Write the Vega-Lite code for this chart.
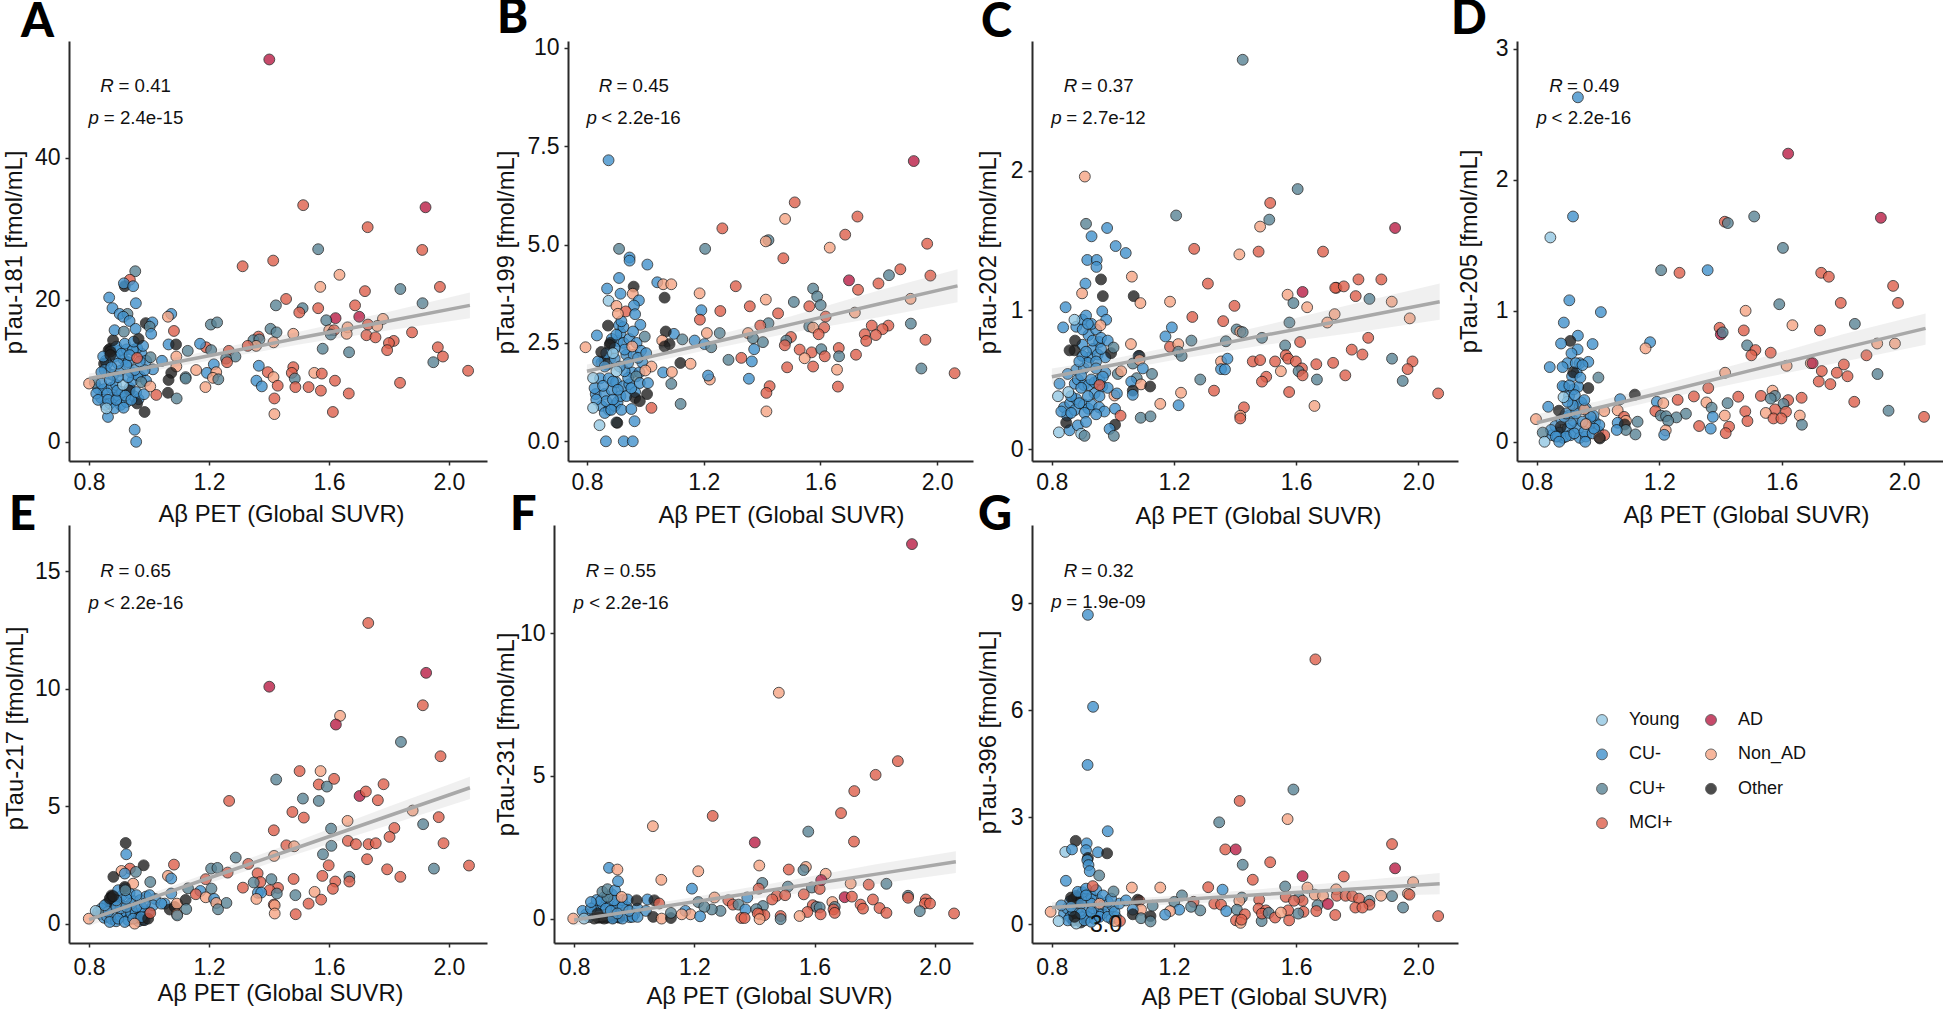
{"$schema":"https://vega.github.io/schema/vega-lite/v6.json","background":"white","padding":{"left":2,"top":-6,"right":0,"bottom":0},
"config":{"view":{"stroke":null},"font":"Liberation Sans","axis":{"grid":false,"domainColor":"#2a2a2a","domainWidth":2,"tickColor":"#2a2a2a","tickWidth":1.5,"tickSize":4,"labelFontSize":23,"labelColor":"#111","labelFont":"Liberation Sans","titleFont":"Liberation Sans","titleFontWeight":"normal","titleColor":"#111","titleBaseline":"middle","titleFontSize":23.8},"axisX":{"labelPadding":6},"axisY":{"labelPadding":5},"title":{"font":"Lato","fontSize":47,"fontWeight":900,"anchor":"start","frame":"group","color":"#000","offset":-6},"text":{"font":"Liberation Sans","fontSize":18.7,"align":"left","baseline":"middle","color":"#111"},"line":{"color":"#a8a8a8","strokeWidth":3.5},"area":{"color":"#999999","opacity":0.15},"circle":{"size":118,"stroke":"#111","strokeWidth":0.9,"opacity":0.8}},
"datasets":{"cats":[{"g":"Young"}],
"a":[{"x":0.83,"y":7.5,"g":"CU-"},{"x":0.84,"y":6.2,"g":"CU-"},{"x":0.85,"y":7.4,"g":"CU-"},{"x":0.855,"y":5.2,"g":"CU-"},{"x":0.87,"y":5.4,"g":"CU-"},{"x":0.875,"y":7.6,"g":"CU-"},{"x":0.88,"y":6.2,"g":"CU-"},{"x":0.89,"y":8,"g":"CU-"},{"x":0.9,"y":6.4,"g":"CU-"},{"x":0.905,"y":5.2,"g":"CU-"},{"x":0.91,"y":7,"g":"CU-"},{"x":0.925,"y":5.6,"g":"CU-"},{"x":0.935,"y":7.6,"g":"CU-"},{"x":0.945,"y":8.6,"g":"CU-"},{"x":0.95,"y":6.4,"g":"CU-"},{"x":0.965,"y":6,"g":"CU-"},{"x":0.97,"y":9.2,"g":"CU-"},{"x":0.99,"y":8.6,"g":"CU-"},{"x":0.86,"y":11,"g":"CU-"},{"x":0.865,"y":9.6,"g":"CU-"},{"x":0.88,"y":9.4,"g":"CU-"},{"x":0.905,"y":10,"g":"CU-"},{"x":0.915,"y":11.6,"g":"CU-"},{"x":0.93,"y":11.2,"g":"CU-"},{"x":0.94,"y":9.8,"g":"CU-"},{"x":0.96,"y":9.4,"g":"CU-"},{"x":0.975,"y":12.4,"g":"CU-"},{"x":0.9,"y":12.8,"g":"CU-"},{"x":0.925,"y":13,"g":"CU-"},{"x":0.885,"y":12,"g":"CU-"},{"x":0.855,"y":11.4,"g":"CU-"},{"x":0.99,"y":11.4,"g":"CU-"},{"x":0.96,"y":13.2,"g":"CU-"},{"x":0.87,"y":13.1,"g":"Other"},{"x":0.865,"y":12.9,"g":"Other"},{"x":0.85,"y":11,"g":"Other"},{"x":0.935,"y":7.2,"g":"Other"},{"x":0.96,"y":5.4,"g":"Other"},{"x":0.819,"y":8.3,"g":"CU+"},{"x":0.824,"y":6.8,"g":"CU-"},{"x":0.83,"y":5.9,"g":"CU-"},{"x":0.841,"y":8.2,"g":"CU-"},{"x":0.852,"y":10.1,"g":"CU-"},{"x":0.861,"y":6.8,"g":"CU-"},{"x":0.863,"y":5.9,"g":"CU-"},{"x":0.885,"y":4.7,"g":"CU-"},{"x":0.891,"y":5.9,"g":"CU-"},{"x":0.894,"y":7.2,"g":"CU-"},{"x":0.913,"y":8,"g":"Young"},{"x":0.921,"y":6.5,"g":"CU-"},{"x":0.915,"y":4.8,"g":"CU-"},{"x":0.941,"y":5.9,"g":"CU-"},{"x":0.957,"y":7,"g":"CU-"},{"x":0.983,"y":6.7,"g":"CU-"},{"x":0.974,"y":8.4,"g":"CU+"},{"x":0.952,"y":10.1,"g":"CU-"},{"x":0.93,"y":9.1,"g":"CU-"},{"x":0.896,"y":9.1,"g":"CU-"},{"x":0.869,"y":8.7,"g":"CU-"},{"x":0.841,"y":9.8,"g":"CU-"},{"x":1.013,"y":10.2,"g":"CU-"},{"x":0.985,"y":10.1,"g":"CU-"},{"x":0.969,"y":11.3,"g":"CU-"},{"x":0.924,"y":10.8,"g":"CU-"},{"x":0.896,"y":11,"g":"CU-"},{"x":0.874,"y":10.5,"g":"CU-"},{"x":0.891,"y":13.4,"g":"CU-"},{"x":0.919,"y":13.8,"g":"CU-"},{"x":0.946,"y":12.9,"g":"CU-"},{"x":0.908,"y":12.4,"g":"CU-"},{"x":0.847,"y":12,"g":"CU-"},{"x":0.871,"y":12.7,"g":"Other"},{"x":0.871,"y":12.2,"g":"Other"},{"x":0.88,"y":14.3,"g":"Other"},{"x":0.935,"y":12.2,"g":"CU-"},{"x":0.96,"y":11.8,"g":"MCI+"},{"x":0.949,"y":14.1,"g":"CU-"},{"x":0.98,"y":13.5,"g":"CU-"},{"x":0.965,"y":14.5,"g":"Other"},{"x":1.005,"y":11.9,"g":"CU+"},{"x":1.043,"y":11.4,"g":"CU-"},{"x":1.065,"y":13.7,"g":"CU-"},{"x":1.09,"y":13.7,"g":"Other"},{"x":0.954,"y":24,"g":"CU+"},{"x":0.936,"y":22.8,"g":"MCI+"},{"x":0.919,"y":21.9,"g":"Other"},{"x":0.916,"y":22.3,"g":"CU-"},{"x":0.947,"y":21.9,"g":"CU-"},{"x":0.867,"y":20.3,"g":"CU-"},{"x":0.956,"y":19.5,"g":"CU-"},{"x":0.878,"y":18.8,"g":"CU-"},{"x":0.902,"y":18,"g":"CU-"},{"x":0.928,"y":18,"g":"CU+"},{"x":0.914,"y":17.6,"g":"CU-"},{"x":0.935,"y":17,"g":"CU-"},{"x":0.989,"y":16.7,"g":"Other"},{"x":1.011,"y":16.8,"g":"CU-"},{"x":1.002,"y":16.2,"g":"CU+"},{"x":1.007,"y":15.2,"g":"CU-"},{"x":1.074,"y":18,"g":"CU-"},{"x":1.063,"y":17.6,"g":"Non_AD"},{"x":1.083,"y":15.6,"g":"MCI+"},{"x":0.955,"y":15.9,"g":"CU-"},{"x":0.885,"y":15.7,"g":"CU-"},{"x":0.916,"y":15.5,"g":"CU+"},{"x":1.091,"y":12,"g":"Non_AD"},{"x":1.091,"y":10.6,"g":"Non_AD"},{"x":1.074,"y":9.7,"g":"Other"},{"x":1.065,"y":8.7,"g":"Other"},{"x":1.063,"y":6.9,"g":"Other"},{"x":1.092,"y":6.1,"g":"CU+"},{"x":1.024,"y":6.6,"g":"MCI+"},{"x":1.004,"y":7.8,"g":"Non_AD"},{"x":0.985,"y":4.2,"g":"Other"},{"x":0.952,"y":1.7,"g":"CU-"},{"x":0.957,"y":0,"g":"CU-"},{"x":0.863,"y":3.5,"g":"CU-"},{"x":0.858,"y":4.7,"g":"Young"},{"x":0.8,"y":8.2,"g":"Non_AD"},{"x":1.514,"y":33.3,"g":"MCI+"},{"x":1.729,"y":30.2,"g":"MCI+"},{"x":1.564,"y":27.1,"g":"CU+"},{"x":1.911,"y":27,"g":"MCI+"},{"x":1.414,"y":25.5,"g":"MCI+"},{"x":1.312,"y":24.7,"g":"MCI+"},{"x":1.635,"y":23.5,"g":"Non_AD"},{"x":1.571,"y":21.8,"g":"Non_AD"},{"x":1.97,"y":21.8,"g":"MCI+"},{"x":1.72,"y":21.2,"g":"MCI+"},{"x":1.838,"y":21.5,"g":"CU+"},{"x":1.457,"y":20.1,"g":"MCI+"},{"x":1.423,"y":19.2,"g":"CU+"},{"x":1.512,"y":18.8,"g":"CU+"},{"x":1.501,"y":18.2,"g":"MCI+"},{"x":1.564,"y":18.8,"g":"MCI+"},{"x":1.687,"y":19.2,"g":"MCI+"},{"x":1.912,"y":19.5,"g":"CU+"},{"x":1.701,"y":17.6,"g":"AD"},{"x":1.622,"y":17.4,"g":"AD"},{"x":1.591,"y":17.1,"g":"CU+"},{"x":1.78,"y":17.3,"g":"Non_AD"},{"x":1.73,"y":16.5,"g":"MCI+"},{"x":1.761,"y":16.3,"g":"Non_AD"},{"x":1.662,"y":16.1,"g":"Non_AD"},{"x":1.405,"y":15.9,"g":"CU+"},{"x":1.425,"y":15.4,"g":"CU+"},{"x":1.481,"y":15.2,"g":"Non_AD"},{"x":1.601,"y":15.7,"g":"Non_AD"},{"x":1.617,"y":15.7,"g":"MCI+"},{"x":1.606,"y":15.1,"g":"CU+"},{"x":1.659,"y":15.2,"g":"Non_AD"},{"x":1.725,"y":15,"g":"MCI+"},{"x":1.755,"y":14.7,"g":"MCI+"},{"x":1.877,"y":15.4,"g":"MCI+"},{"x":1.816,"y":14.2,"g":"MCI+"},{"x":1.8,"y":13.9,"g":"MCI+"},{"x":1.794,"y":12.9,"g":"MCI+"},{"x":1.963,"y":13.3,"g":"MCI+"},{"x":1.98,"y":12,"g":"MCI+"},{"x":1.948,"y":11.2,"g":"CU+"},{"x":2.064,"y":10,"g":"MCI+"},{"x":1.579,"y":13.1,"g":"CU+"},{"x":1.667,"y":12.6,"g":"CU+"},{"x":1.365,"y":14.8,"g":"MCI+"},{"x":1.348,"y":14.3,"g":"CU+"},{"x":1.368,"y":14.4,"g":"CU+"},{"x":1.415,"y":14,"g":"Non_AD"},{"x":1.357,"y":13.5,"g":"Non_AD"},{"x":1.329,"y":13.5,"g":"MCI+"},{"x":1.19,"y":13.3,"g":"MCI+"},{"x":1.207,"y":12.9,"g":"CU+"},{"x":1.266,"y":12.8,"g":"MCI+"},{"x":1.288,"y":12,"g":"CU+"},{"x":1.257,"y":11.7,"g":"CU+"},{"x":1.26,"y":11.2,"g":"MCI+"},{"x":1.206,"y":16.5,"g":"CU+"},{"x":1.227,"y":16.8,"g":"CU+"},{"x":1.17,"y":13.8,"g":"CU-"},{"x":1.129,"y":12.8,"g":"CU+"},{"x":1.216,"y":10.9,"g":"CU-"},{"x":1.193,"y":9.7,"g":"CU-"},{"x":1.157,"y":10.1,"g":"Non_AD"},{"x":1.188,"y":7.7,"g":"Non_AD"},{"x":1.224,"y":9.8,"g":"Non_AD"},{"x":1.213,"y":9,"g":"Non_AD"},{"x":1.231,"y":8.8,"g":"CU+"},{"x":1.122,"y":9.1,"g":"CU+"},{"x":1.122,"y":8.9,"g":"CU+"},{"x":1.366,"y":10.7,"g":"CU-"},{"x":1.358,"y":8.6,"g":"CU-"},{"x":1.376,"y":7.8,"g":"CU-"},{"x":1.396,"y":9.8,"g":"MCI+"},{"x":1.415,"y":9.1,"g":"Non_AD"},{"x":1.429,"y":7.9,"g":"MCI+"},{"x":1.481,"y":10.5,"g":"MCI+"},{"x":1.476,"y":9.7,"g":"MCI+"},{"x":1.486,"y":8.9,"g":"CU+"},{"x":1.488,"y":7.7,"g":"MCI+"},{"x":1.532,"y":7.7,"g":"MCI+"},{"x":1.551,"y":9.7,"g":"Non_AD"},{"x":1.576,"y":9.6,"g":"MCI+"},{"x":1.573,"y":7.2,"g":"MCI+"},{"x":1.62,"y":8.6,"g":"MCI+"},{"x":1.666,"y":6.8,"g":"MCI+"},{"x":1.837,"y":8.3,"g":"MCI+"},{"x":1.418,"y":6.1,"g":"MCI+"},{"x":1.418,"y":3.9,"g":"Non_AD"},{"x":1.613,"y":4.2,"g":"MCI+"},{"x":1.401,"y":53.8,"g":"AD"},{"x":1.922,"y":33,"g":"AD"}],
"a_l":[{"x":0.8,"y":8.9,"lo":8.2,"hi":9.6},{"x":1.0,"y":10.5,"lo":9.9,"hi":11.1},{"x":1.2,"y":12.1,"lo":11.4,"hi":12.8},{"x":1.5,"y":14.6,"lo":13.7,"hi":15.5},{"x":1.8,"y":17.0,"lo":15.7,"hi":18.3},{"x":2.07,"y":19.2,"lo":17.4,"hi":21}],"a_r":[{"x":0.837,"y":50,"t":"R"},{"x":0.798,"y":45.5,"t":"p"}],"a_s":[{"x":0.898,"y":50,"t":"= 0.41"},{"x":0.849,"y":45.5,"t":"= 2.4e-15"}],
"b":[{"x":0.83,"y":1.2,"g":"CU-"},{"x":0.845,"y":1.6,"g":"CU-"},{"x":0.85,"y":0.9,"g":"CU-"},{"x":0.86,"y":1.2,"g":"CU-"},{"x":0.875,"y":0.8,"g":"CU-"},{"x":0.875,"y":1.6,"g":"CU-"},{"x":0.885,"y":1.3,"g":"CU-"},{"x":0.895,"y":0.9,"g":"CU-"},{"x":0.9,"y":1.5,"g":"CU-"},{"x":0.905,"y":1,"g":"CU-"},{"x":0.915,"y":1.15,"g":"CU-"},{"x":0.925,"y":1.4,"g":"CU-"},{"x":0.935,"y":1.15,"g":"CU-"},{"x":0.945,"y":1.45,"g":"CU-"},{"x":0.955,"y":1.75,"g":"CU-"},{"x":0.965,"y":1.25,"g":"CU-"},{"x":0.98,"y":1.75,"g":"CU-"},{"x":0.99,"y":2,"g":"CU-"},{"x":0.85,"y":2,"g":"CU-"},{"x":0.87,"y":1.95,"g":"CU-"},{"x":0.88,"y":2.1,"g":"CU-"},{"x":0.895,"y":2.1,"g":"CU-"},{"x":0.905,"y":2.55,"g":"CU-"},{"x":0.915,"y":2.75,"g":"CU-"},{"x":0.925,"y":2.5,"g":"CU-"},{"x":0.935,"y":2.2,"g":"CU-"},{"x":0.945,"y":2.6,"g":"CU-"},{"x":0.96,"y":2.2,"g":"CU-"},{"x":0.97,"y":2.5,"g":"CU-"},{"x":0.885,"y":2.6,"g":"CU-"},{"x":0.91,"y":2.95,"g":"CU-"},{"x":0.925,"y":2.9,"g":"CU-"},{"x":0.985,"y":2.3,"g":"CU-"},{"x":0.88,"y":2.5,"g":"Other"},{"x":0.86,"y":2.05,"g":"Other"},{"x":0.965,"y":1.1,"g":"Other"},{"x":0.838,"y":2.03,"g":"CU-"},{"x":0.861,"y":1.9,"g":"CU-"},{"x":0.826,"y":1.35,"g":"CU-"},{"x":0.855,"y":1.41,"g":"CU-"},{"x":0.889,"y":1.52,"g":"CU-"},{"x":0.941,"y":1.61,"g":"CU-"},{"x":0.969,"y":1.65,"g":"CU+"},{"x":0.906,"y":1.31,"g":"CU-"},{"x":0.929,"y":1.78,"g":"CU-"},{"x":0.866,"y":1.02,"g":"CU-"},{"x":0.889,"y":1.06,"g":"CU-"},{"x":0.832,"y":1.06,"g":"CU-"},{"x":0.861,"y":0.72,"g":"CU-"},{"x":0.883,"y":0.8,"g":"CU-"},{"x":0.918,"y":0.8,"g":"CU-"},{"x":0.952,"y":1.35,"g":"CU-"},{"x":0.981,"y":1.48,"g":"CU-"},{"x":0.929,"y":2.33,"g":"CU-"},{"x":0.895,"y":2.37,"g":"CU-"},{"x":0.941,"y":1.99,"g":"CU-"},{"x":0.866,"y":2.24,"g":"CU-"},{"x":0.912,"y":1.9,"g":"CU-"},{"x":0.975,"y":2.12,"g":"CU-"},{"x":0.901,"y":1.78,"g":"Young"},{"x":0.795,"y":2.39,"g":"Non_AD"},{"x":0.834,"y":2.69,"g":"CU-"},{"x":0.872,"y":2.94,"g":"Other"},{"x":0.878,"y":2.45,"g":"Other"},{"x":0.955,"y":2.41,"g":"Non_AD"},{"x":0.998,"y":2.66,"g":"CU+"},{"x":0.983,"y":2.96,"g":"CU-"},{"x":0.918,"y":3.05,"g":"CU-"},{"x":0.901,"y":2.71,"g":"CU-"},{"x":0.958,"y":2.79,"g":"CU-"},{"x":1.003,"y":2.24,"g":"CU-"},{"x":0.849,"y":2.27,"g":"Other"},{"x":0.889,"y":2.24,"g":"Young"},{"x":0.821,"y":1.61,"g":"Young"},{"x":0.821,"y":0.85,"g":"Young"},{"x":1.021,"y":1.9,"g":"Non_AD"},{"x":1,"y":1.8,"g":"Non_AD"},{"x":1.009,"y":1.48,"g":"CU-"},{"x":1.006,"y":1.2,"g":"Other"},{"x":0.981,"y":1.02,"g":"Other"},{"x":0.952,"y":0.82,"g":"CU-"},{"x":0.843,"y":0.41,"g":"Young"},{"x":0.963,"y":0.51,"g":"CU-"},{"x":0.901,"y":0.48,"g":"CU+"},{"x":0.904,"y":0.47,"g":"Other"},{"x":0.865,"y":0,"g":"CU-"},{"x":0.926,"y":0,"g":"CU-"},{"x":0.957,"y":0,"g":"CU-"},{"x":0.874,"y":7.14,"g":"CU-"},{"x":1.512,"y":6.07,"g":"MCI+"},{"x":1.479,"y":5.65,"g":"Non_AD"},{"x":1.727,"y":5.71,"g":"MCI+"},{"x":1.264,"y":5.41,"g":"MCI+"},{"x":1.685,"y":5.25,"g":"MCI+"},{"x":0.91,"y":4.89,"g":"CU+"},{"x":1.205,"y":4.89,"g":"CU+"},{"x":1.422,"y":5.11,"g":"CU+"},{"x":1.413,"y":5.08,"g":"Non_AD"},{"x":1.632,"y":4.92,"g":"Non_AD"},{"x":1.966,"y":5.02,"g":"MCI+"},{"x":1.473,"y":4.65,"g":"MCI+"},{"x":0.946,"y":4.67,"g":"CU-"},{"x":0.946,"y":4.59,"g":"CU-"},{"x":1.007,"y":4.49,"g":"CU-"},{"x":1.874,"y":4.37,"g":"MCI+"},{"x":1.835,"y":4.22,"g":"CU+"},{"x":1.977,"y":4.21,"g":"MCI+"},{"x":0.91,"y":4.15,"g":"CU-"},{"x":1.698,"y":4.09,"g":"AD"},{"x":1.799,"y":4.01,"g":"MCI+"},{"x":1.041,"y":4.04,"g":"CU-"},{"x":1.061,"y":3.99,"g":"Non_AD"},{"x":1.089,"y":3.99,"g":"Non_AD"},{"x":1.31,"y":3.94,"g":"MCI+"},{"x":1.575,"y":3.88,"g":"CU+"},{"x":1.729,"y":3.85,"g":"MCI+"},{"x":0.869,"y":3.88,"g":"CU-"},{"x":0.96,"y":3.93,"g":"Other"},{"x":0.915,"y":3.75,"g":"CU-"},{"x":0.957,"y":3.75,"g":"Non_AD"},{"x":1.186,"y":3.76,"g":"Non_AD"},{"x":1.589,"y":3.68,"g":"CU+"},{"x":1.066,"y":3.65,"g":"Other"},{"x":1.413,"y":3.6,"g":"Non_AD"},{"x":1.909,"y":3.62,"g":"Non_AD"},{"x":1.509,"y":3.54,"g":"CU+"},{"x":0.874,"y":3.57,"g":"Young"},{"x":0.978,"y":3.58,"g":"CU-"},{"x":0.961,"y":3.45,"g":"CU-"},{"x":0.901,"y":3.44,"g":"Non_AD"},{"x":1.601,"y":3.46,"g":"CU+"},{"x":1.358,"y":3.43,"g":"MCI+"},{"x":1.562,"y":3.43,"g":"MCI+"},{"x":1.192,"y":3.33,"g":"CU-"},{"x":1.257,"y":3.31,"g":"MCI+"},{"x":1.455,"y":3.25,"g":"MCI+"},{"x":1.718,"y":3.27,"g":"Non_AD"},{"x":0.933,"y":3.3,"g":"MCI+"},{"x":0.965,"y":3.23,"g":"CU-"},{"x":0.906,"y":3.24,"g":"Non_AD"},{"x":1.618,"y":3.17,"g":"MCI+"},{"x":1.187,"y":3.09,"g":"MCI+"},{"x":1.422,"y":3,"g":"CU+"},{"x":1.394,"y":2.94,"g":"MCI+"},{"x":1.776,"y":2.94,"g":"MCI+"},{"x":1.613,"y":2.89,"g":"MCI+"},{"x":1.562,"y":2.92,"g":"CU+"},{"x":1.575,"y":2.89,"g":"Non_AD"},{"x":1.833,"y":2.94,"g":"MCI+"},{"x":1.813,"y":2.85,"g":"MCI+"},{"x":1.752,"y":2.72,"g":"MCI+"},{"x":1.79,"y":2.7,"g":"MCI+"},{"x":1.594,"y":2.72,"g":"MCI+"},{"x":1.352,"y":2.75,"g":"Non_AD"},{"x":1.369,"y":2.62,"g":"CU+"},{"x":1.211,"y":2.75,"g":"Non_AD"},{"x":1.255,"y":2.75,"g":"CU+"},{"x":1.499,"y":2.65,"g":"MCI+"},{"x":1.483,"y":2.56,"g":"CU+"},{"x":1.478,"y":2.44,"g":"MCI+"},{"x":1.403,"y":2.52,"g":"CU+"},{"x":1.098,"y":2.73,"g":"CU-"},{"x":1.07,"y":2.79,"g":"Other"},{"x":1.127,"y":2.59,"g":"CU+"},{"x":1.169,"y":2.56,"g":"CU-"},{"x":1.058,"y":2.56,"g":"Non_AD"},{"x":1.203,"y":2.47,"g":"CU-"},{"x":1.226,"y":2.39,"g":"CU+"},{"x":1.083,"y":2.47,"g":"Other"},{"x":1.066,"y":2.41,"g":"Other"},{"x":1.757,"y":2.55,"g":"MCI+"},{"x":1.96,"y":2.58,"g":"MCI+"},{"x":1.373,"y":2.34,"g":"CU-"},{"x":1.529,"y":2.33,"g":"MCI+"},{"x":1.91,"y":2.99,"g":"CU+"},{"x":1.57,"y":2.26,"g":"MCI+"},{"x":1.603,"y":2.34,"g":"CU+"},{"x":1.663,"y":2.37,"g":"MCI+"},{"x":1.664,"y":2.16,"g":"CU+"},{"x":1.615,"y":2.16,"g":"MCI+"},{"x":1.722,"y":2.2,"g":"MCI+"},{"x":1.329,"y":2.12,"g":"MCI+"},{"x":1.546,"y":2.11,"g":"Non_AD"},{"x":1.285,"y":2.07,"g":"CU+"},{"x":1.365,"y":2.03,"g":"CU-"},{"x":1.12,"y":1.99,"g":"Other"},{"x":1.155,"y":1.97,"g":"Non_AD"},{"x":1.486,"y":1.88,"g":"MCI+"},{"x":1.575,"y":1.9,"g":"MCI+"},{"x":1.946,"y":1.85,"g":"CU+"},{"x":1.657,"y":1.82,"g":"Non_AD"},{"x":2.06,"y":1.73,"g":"MCI+"},{"x":1.061,"y":1.75,"g":"CU-"},{"x":1.091,"y":1.76,"g":"Non_AD"},{"x":1.089,"y":1.46,"g":"CU+"},{"x":1.221,"y":1.57,"g":"Non_AD"},{"x":1.215,"y":1.67,"g":"CU-"},{"x":1.355,"y":1.59,"g":"CU-"},{"x":1.426,"y":1.4,"g":"MCI+"},{"x":1.66,"y":1.39,"g":"MCI+"},{"x":1.415,"y":1.23,"g":"MCI+"},{"x":1.121,"y":0.95,"g":"CU+"},{"x":1.021,"y":0.85,"g":"MCI+"},{"x":1.415,"y":0.76,"g":"Non_AD"},{"x":1.92,"y":7.12,"g":"AD"}],
"b_l":[{"x":0.8,"y":1.78,"lo":1.62,"hi":1.95},{"x":1.0,"y":2.12,"lo":1.98,"hi":2.26},{"x":1.2,"y":2.46,"lo":2.30,"hi":2.62},{"x":1.5,"y":2.97,"lo":2.76,"hi":3.18},{"x":1.8,"y":3.49,"lo":3.15,"hi":3.83},{"x":2.07,"y":3.95,"lo":3.53,"hi":4.37}],"b_r":[{"x":0.84,"y":9.03,"t":"R"},{"x":0.798,"y":8.22,"t":"p"}],"b_s":[{"x":0.901,"y":9.03,"t":"= 0.45"},{"x":0.849,"y":8.22,"t":"< 2.2e-16"}],
"c":[{"x":0.84,"y":0.3,"g":"CU-"},{"x":0.85,"y":0.24,"g":"CU-"},{"x":0.86,"y":0.33,"g":"CU-"},{"x":0.875,"y":0.28,"g":"CU-"},{"x":0.88,"y":0.36,"g":"CU-"},{"x":0.905,"y":0.32,"g":"CU-"},{"x":0.92,"y":0.29,"g":"CU-"},{"x":0.93,"y":0.32,"g":"CU-"},{"x":0.94,"y":0.4,"g":"CU-"},{"x":0.955,"y":0.3,"g":"CU-"},{"x":0.965,"y":0.45,"g":"CU-"},{"x":0.875,"y":0.47,"g":"CU-"},{"x":0.885,"y":0.5,"g":"CU-"},{"x":0.905,"y":0.46,"g":"CU-"},{"x":0.92,"y":0.46,"g":"CU-"},{"x":0.94,"y":0.48,"g":"CU-"},{"x":0.955,"y":0.5,"g":"CU-"},{"x":0.975,"y":0.55,"g":"CU-"},{"x":0.88,"y":0.57,"g":"CU-"},{"x":0.905,"y":0.58,"g":"CU-"},{"x":0.925,"y":0.66,"g":"CU-"},{"x":0.9,"y":0.67,"g":"CU-"},{"x":0.935,"y":0.72,"g":"CU-"},{"x":0.95,"y":0.68,"g":"CU-"},{"x":0.975,"y":0.66,"g":"CU-"},{"x":0.9,"y":0.75,"g":"CU-"},{"x":0.92,"y":0.82,"g":"CU-"},{"x":0.945,"y":0.86,"g":"CU-"},{"x":0.88,"y":0.88,"g":"CU-"},{"x":0.9,"y":0.93,"g":"CU-"},{"x":0.93,"y":0.9,"g":"CU-"},{"x":0.955,"y":0.77,"g":"CU-"},{"x":0.831,"y":0.27,"g":"CU-"},{"x":0.863,"y":0.26,"g":"CU-"},{"x":0.89,"y":0.33,"g":"CU-"},{"x":0.918,"y":0.38,"g":"CU-"},{"x":0.956,"y":0.38,"g":"CU-"},{"x":0.972,"y":0.27,"g":"CU-"},{"x":0.945,"y":0.25,"g":"CU-"},{"x":0.907,"y":0.26,"g":"CU-"},{"x":0.863,"y":0.38,"g":"CU-"},{"x":0.896,"y":0.44,"g":"CU-"},{"x":0.929,"y":0.5,"g":"CU-"},{"x":0.967,"y":0.52,"g":"CU-"},{"x":0.896,"y":0.53,"g":"CU-"},{"x":0.852,"y":0.54,"g":"CU-"},{"x":0.983,"y":0.44,"g":"CU-"},{"x":0.918,"y":0.62,"g":"CU-"},{"x":0.945,"y":0.63,"g":"CU-"},{"x":0.89,"y":0.63,"g":"CU-"},{"x":0.912,"y":0.7,"g":"CU-"},{"x":0.961,"y":0.72,"g":"CU-"},{"x":0.874,"y":0.71,"g":"Other"},{"x":0.858,"y":0.71,"g":"Other"},{"x":0.994,"y":0.69,"g":"Other"},{"x":0.934,"y":0.78,"g":"CU-"},{"x":0.961,"y":0.8,"g":"CU-"},{"x":0.901,"y":0.86,"g":"CU-"},{"x":0.876,"y":0.78,"g":"Other"},{"x":0.912,"y":0.96,"g":"CU-"},{"x":0.874,"y":0.93,"g":"Young"},{"x":0.918,"y":0.9,"g":"CU-"},{"x":0.983,"y":0.78,"g":"CU-"},{"x":0.945,"y":0.58,"g":"CU-"},{"x":0.82,"y":0.38,"g":"Young"},{"x":0.825,"y":0.47,"g":"CU-"},{"x":0.854,"y":0.41,"g":"Young"},{"x":0.823,"y":0.12,"g":"Young"},{"x":0.858,"y":0.135,"g":"CU-"},{"x":0.847,"y":0.19,"g":"Other"},{"x":0.885,"y":0.17,"g":"CU-"},{"x":0.896,"y":0.11,"g":"Young"},{"x":0.907,"y":0.095,"g":"CU+"},{"x":0.912,"y":0.195,"g":"CU-"},{"x":0.908,"y":1.96,"g":"Non_AD"},{"x":0.912,"y":1.62,"g":"CU+"},{"x":0.981,"y":1.59,"g":"CU-"},{"x":0.93,"y":1.53,"g":"CU-"},{"x":1.009,"y":1.46,"g":"CU-"},{"x":1.042,"y":1.41,"g":"CU-"},{"x":0.916,"y":1.36,"g":"CU-"},{"x":0.947,"y":1.36,"g":"CU-"},{"x":0.946,"y":1.31,"g":"CU-"},{"x":1.062,"y":1.24,"g":"Non_AD"},{"x":0.961,"y":1.22,"g":"Other"},{"x":0.91,"y":1.19,"g":"CU-"},{"x":0.899,"y":1.12,"g":"Non_AD"},{"x":0.967,"y":1.1,"g":"Other"},{"x":1.068,"y":1.1,"g":"Other"},{"x":1.09,"y":1.05,"g":"Non_AD"},{"x":0.845,"y":1.02,"g":"CU-"},{"x":0.965,"y":0.99,"g":"CU-"},{"x":0.837,"y":0.875,"g":"CU-"},{"x":0.978,"y":0.93,"g":"CU-"},{"x":0.959,"y":0.89,"g":"Non_AD"},{"x":1.059,"y":0.755,"g":"Non_AD"},{"x":1.002,"y":0.73,"g":"CU+"},{"x":1.084,"y":0.67,"g":"CU-"},{"x":1.087,"y":0.67,"g":"Other"},{"x":1.065,"y":0.615,"g":"CU+"},{"x":1.087,"y":0.64,"g":"Non_AD"},{"x":1.098,"y":0.58,"g":"CU-"},{"x":1.016,"y":0.54,"g":"CU+"},{"x":1.027,"y":0.56,"g":"Non_AD"},{"x":1.128,"y":0.54,"g":"CU+"},{"x":1.078,"y":0.51,"g":"CU+"},{"x":1.06,"y":0.485,"g":"CU-"},{"x":1.092,"y":0.465,"g":"Non_AD"},{"x":1.122,"y":0.45,"g":"Other"},{"x":0.956,"y":0.46,"g":"MCI+"},{"x":1.065,"y":0.42,"g":"Other"},{"x":1.065,"y":0.39,"g":"CU-"},{"x":1.005,"y":0.385,"g":"Non_AD"},{"x":1.013,"y":0.4,"g":"CU-"},{"x":1.007,"y":0.29,"g":"CU-"},{"x":1.025,"y":0.24,"g":"MCI+"},{"x":1.091,"y":0.225,"g":"CU+"},{"x":1.123,"y":0.235,"g":"CU+"},{"x":1.007,"y":0.175,"g":"Other"},{"x":0.989,"y":0.145,"g":"CU-"},{"x":1.003,"y":0.095,"g":"CU+"},{"x":1.425,"y":2.8,"g":"CU+"},{"x":1.605,"y":1.87,"g":"CU+"},{"x":1.515,"y":1.77,"g":"MCI+"},{"x":1.512,"y":1.65,"g":"CU+"},{"x":1.482,"y":1.6,"g":"Non_AD"},{"x":1.207,"y":1.68,"g":"CU+"},{"x":1.266,"y":1.44,"g":"MCI+"},{"x":1.477,"y":1.42,"g":"MCI+"},{"x":1.688,"y":1.42,"g":"MCI+"},{"x":1.414,"y":1.4,"g":"Non_AD"},{"x":1.804,"y":1.22,"g":"MCI+"},{"x":1.879,"y":1.22,"g":"MCI+"},{"x":1.311,"y":1.19,"g":"MCI+"},{"x":1.732,"y":1.16,"g":"MCI+"},{"x":1.728,"y":1.16,"g":"MCI+"},{"x":1.756,"y":1.17,"g":"MCI+"},{"x":1.795,"y":1.1,"g":"MCI+"},{"x":1.621,"y":1.13,"g":"AD"},{"x":1.572,"y":1.11,"g":"Non_AD"},{"x":1.187,"y":1.06,"g":"Non_AD"},{"x":1.591,"y":1.05,"g":"CU+"},{"x":1.84,"y":1.08,"g":"CU+"},{"x":1.913,"y":1.06,"g":"Non_AD"},{"x":1.398,"y":1.03,"g":"MCI+"},{"x":1.636,"y":1.02,"g":"Non_AD"},{"x":1.726,"y":0.97,"g":"Non_AD"},{"x":1.26,"y":0.95,"g":"MCI+"},{"x":1.361,"y":0.92,"g":"MCI+"},{"x":1.702,"y":0.91,"g":"Non_AD"},{"x":1.578,"y":0.91,"g":"CU+"},{"x":1.972,"y":0.94,"g":"Non_AD"},{"x":1.193,"y":0.875,"g":"CU-"},{"x":1.405,"y":0.86,"g":"CU+"},{"x":1.417,"y":0.845,"g":"Non_AD"},{"x":1.425,"y":0.84,"g":"CU+"},{"x":1.172,"y":0.81,"g":"CU-"},{"x":1.488,"y":0.8,"g":"CU+"},{"x":1.836,"y":0.8,"g":"MCI+"},{"x":1.257,"y":0.78,"g":"CU+"},{"x":1.613,"y":0.77,"g":"MCI+"},{"x":1.37,"y":0.775,"g":"CU+"},{"x":1.187,"y":0.735,"g":"MCI+"},{"x":1.214,"y":0.755,"g":"Non_AD"},{"x":1.564,"y":0.745,"g":"CU+"},{"x":1.782,"y":0.715,"g":"MCI+"},{"x":1.817,"y":0.68,"g":"MCI+"},{"x":1.214,"y":0.7,"g":"CU+"},{"x":1.225,"y":0.67,"g":"CU+"},{"x":1.566,"y":0.675,"g":"MCI+"},{"x":1.574,"y":0.65,"g":"MCI+"},{"x":1.354,"y":0.63,"g":"Non_AD"},{"x":1.375,"y":0.65,"g":"CU-"},{"x":1.458,"y":0.63,"g":"MCI+"},{"x":1.482,"y":0.64,"g":"MCI+"},{"x":1.531,"y":0.63,"g":"MCI+"},{"x":1.599,"y":0.63,"g":"MCI+"},{"x":1.666,"y":0.61,"g":"MCI+"},{"x":1.721,"y":0.62,"g":"MCI+"},{"x":1.914,"y":0.65,"g":"CU+"},{"x":1.981,"y":0.63,"g":"MCI+"},{"x":1.965,"y":0.575,"g":"MCI+"},{"x":1.354,"y":0.575,"g":"CU-"},{"x":1.367,"y":0.573,"g":"CU-"},{"x":1.619,"y":0.58,"g":"MCI+"},{"x":1.608,"y":0.56,"g":"CU+"},{"x":1.621,"y":0.53,"g":"MCI+"},{"x":1.55,"y":0.56,"g":"Non_AD"},{"x":1.761,"y":0.53,"g":"MCI+"},{"x":1.502,"y":0.52,"g":"MCI+"},{"x":1.488,"y":0.485,"g":"MCI+"},{"x":1.668,"y":0.5,"g":"CU+"},{"x":1.286,"y":0.5,"g":"CU+"},{"x":1.949,"y":0.49,"g":"CU+"},{"x":1.331,"y":0.42,"g":"MCI+"},{"x":1.577,"y":0.41,"g":"MCI+"},{"x":1.223,"y":0.405,"g":"Non_AD"},{"x":2.065,"y":0.4,"g":"MCI+"},{"x":1.155,"y":0.325,"g":"Non_AD"},{"x":1.215,"y":0.315,"g":"CU-"},{"x":1.66,"y":0.31,"g":"Non_AD"},{"x":1.429,"y":0.3,"g":"MCI+"},{"x":1.417,"y":0.24,"g":"Non_AD"},{"x":1.417,"y":0.22,"g":"MCI+"},{"x":1.924,"y":1.59,"g":"AD"}],
"c_l":[{"x":0.8,"y":0.52,"lo":0.47,"hi":0.58},{"x":1.0,"y":0.605,"lo":0.56,"hi":0.65},{"x":1.2,"y":0.69,"lo":0.64,"hi":0.74},{"x":1.5,"y":0.82,"lo":0.75,"hi":0.89},{"x":1.8,"y":0.945,"lo":0.84,"hi":1.05},{"x":2.07,"y":1.06,"lo":0.93,"hi":1.19}],"c_r":[{"x":0.839,"y":2.61,"t":"R"},{"x":0.798,"y":2.38,"t":"p"}],"c_s":[{"x":0.896,"y":2.61,"t":"= 0.37"},{"x":0.847,"y":2.38,"t":"= 2.7e-12"}],
"d":[{"x":0.85,"y":0.05,"g":"CU-"},{"x":0.86,"y":0.12,"g":"CU-"},{"x":0.875,"y":0.07,"g":"CU-"},{"x":0.885,"y":0.03,"g":"CU-"},{"x":0.9,"y":0.1,"g":"CU-"},{"x":0.91,"y":0.05,"g":"CU-"},{"x":0.92,"y":0.16,"g":"CU-"},{"x":0.935,"y":0.1,"g":"CU-"},{"x":0.94,"y":0.03,"g":"CU-"},{"x":0.96,"y":0.04,"g":"CU-"},{"x":0.97,"y":0.13,"g":"CU-"},{"x":0.99,"y":0.15,"g":"CU-"},{"x":0.905,"y":0.2,"g":"CU-"},{"x":0.925,"y":0.27,"g":"CU-"},{"x":0.94,"y":0.27,"g":"CU-"},{"x":0.88,"y":0.17,"g":"CU-"},{"x":0.905,"y":0.35,"g":"CU-"},{"x":0.92,"y":0.4,"g":"CU-"},{"x":0.935,"y":0.42,"g":"CU-"},{"x":0.93,"y":0.53,"g":"CU-"},{"x":0.94,"y":0.6,"g":"CU-"},{"x":0.9,"y":0.6,"g":"CU-"},{"x":0.89,"y":0.42,"g":"CU-"},{"x":0.915,"y":0.5,"g":"CU-"},{"x":0.945,"y":0.3,"g":"CU-"},{"x":0.97,"y":0.22,"g":"CU-"},{"x":0.985,"y":0.2,"g":"CU-"},{"x":1,"y":0.08,"g":"CU-"},{"x":0.846,"y":0.09,"g":"CU-"},{"x":0.868,"y":0.04,"g":"CU-"},{"x":0.895,"y":0.04,"g":"CU-"},{"x":0.922,"y":0.064,"g":"CU-"},{"x":0.955,"y":0.076,"g":"CU-"},{"x":0.982,"y":0.064,"g":"CU-"},{"x":1.004,"y":0.127,"g":"CU-"},{"x":0.976,"y":0.19,"g":"CU-"},{"x":0.949,"y":0.153,"g":"CU-"},{"x":0.911,"y":0.14,"g":"CU-"},{"x":0.878,"y":0.115,"g":"Other"},{"x":0.889,"y":0.19,"g":"CU-"},{"x":0.927,"y":0.216,"g":"CU-"},{"x":0.96,"y":0.255,"g":"CU-"},{"x":0.917,"y":0.28,"g":"CU-"},{"x":0.895,"y":0.216,"g":"CU-"},{"x":0.862,"y":0.04,"g":"CU-"},{"x":0.9,"y":0.305,"g":"CU-"},{"x":0.987,"y":0.1,"g":"CU-"},{"x":0.873,"y":0,"g":"CU-"},{"x":0.958,"y":0,"g":"CU-"},{"x":0.96,"y":0.135,"g":"Non_AD"},{"x":0.819,"y":0.07,"g":"CU+"},{"x":0.825,"y":0,"g":"Young"},{"x":1.02,"y":0.05,"g":"MCI+"},{"x":1.004,"y":0.033,"g":"Non_AD"},{"x":1.006,"y":0.025,"g":"Other"},{"x":0.797,"y":0.173,"g":"Non_AD"},{"x":0.837,"y":0.267,"g":"CU-"},{"x":0.872,"y":0.237,"g":"Other"},{"x":0.955,"y":0.247,"g":"Non_AD"},{"x":1.02,"y":0.234,"g":"Non_AD"},{"x":1.064,"y":0.24,"g":"Non_AD"},{"x":1.085,"y":0.19,"g":"MCI+"},{"x":1.091,"y":0.16,"g":"Non_AD"},{"x":1.064,"y":0.145,"g":"CU-"},{"x":1.087,"y":0.132,"g":"Other"},{"x":1.091,"y":0.09,"g":"CU+"},{"x":1.061,"y":0.09,"g":"CU-"},{"x":1.129,"y":0.153,"g":"CU+"},{"x":1.122,"y":0.056,"g":"CU+"},{"x":0.934,"y":2.63,"g":"CU-"},{"x":0.918,"y":1.72,"g":"CU-"},{"x":0.844,"y":1.56,"g":"Young"},{"x":0.906,"y":1.08,"g":"CU-"},{"x":1.009,"y":0.99,"g":"CU-"},{"x":0.888,"y":0.91,"g":"CU-"},{"x":0.934,"y":0.81,"g":"CU-"},{"x":0.909,"y":0.77,"g":"Other"},{"x":0.879,"y":0.75,"g":"CU-"},{"x":0.982,"y":0.746,"g":"CU-"},{"x":0.933,"y":0.705,"g":"CU-"},{"x":0.913,"y":0.675,"g":"CU-"},{"x":0.968,"y":0.61,"g":"CU-"},{"x":0.927,"y":0.6,"g":"CU-"},{"x":0.842,"y":0.57,"g":"CU-"},{"x":0.884,"y":0.57,"g":"CU-"},{"x":0.949,"y":0.585,"g":"CU-"},{"x":1.001,"y":0.49,"g":"CU+"},{"x":0.919,"y":0.53,"g":"Other"},{"x":0.942,"y":0.49,"g":"CU-"},{"x":0.884,"y":0.425,"g":"CU-"},{"x":0.968,"y":0.41,"g":"Other"},{"x":0.906,"y":0.43,"g":"CU-"},{"x":0.887,"y":0.34,"g":"Young"},{"x":0.924,"y":0.356,"g":"CU-"},{"x":0.955,"y":0.318,"g":"CU-"},{"x":1.12,"y":0.36,"g":"Other"},{"x":1.072,"y":0.325,"g":"CU-"},{"x":1.621,"y":2.2,"g":"AD"},{"x":1.51,"y":1.72,"g":"CU+"},{"x":1.414,"y":1.68,"g":"MCI+"},{"x":1.424,"y":1.67,"g":"CU+"},{"x":1.604,"y":1.48,"g":"CU+"},{"x":1.206,"y":1.31,"g":"CU+"},{"x":1.358,"y":1.31,"g":"CU-"},{"x":1.266,"y":1.29,"g":"MCI+"},{"x":1.729,"y":1.29,"g":"MCI+"},{"x":1.754,"y":1.26,"g":"MCI+"},{"x":1.964,"y":1.19,"g":"MCI+"},{"x":1.98,"y":1.06,"g":"MCI+"},{"x":1.592,"y":1.05,"g":"CU+"},{"x":1.793,"y":1.06,"g":"MCI+"},{"x":1.482,"y":1,"g":"Non_AD"},{"x":1.839,"y":0.9,"g":"CU+"},{"x":1.635,"y":0.89,"g":"Non_AD"},{"x":1.476,"y":0.85,"g":"MCI+"},{"x":1.725,"y":0.85,"g":"MCI+"},{"x":1.397,"y":0.87,"g":"MCI+"},{"x":1.401,"y":0.82,"g":"AD"},{"x":1.407,"y":0.835,"g":"CU+"},{"x":1.17,"y":0.76,"g":"CU-"},{"x":1.155,"y":0.713,"g":"Non_AD"},{"x":1.487,"y":0.736,"g":"CU+"},{"x":1.514,"y":0.7,"g":"MCI+"},{"x":1.501,"y":0.66,"g":"MCI+"},{"x":1.564,"y":0.68,"g":"MCI+"},{"x":1.877,"y":0.66,"g":"MCI+"},{"x":1.695,"y":0.6,"g":"Non_AD"},{"x":1.701,"y":0.6,"g":"AD"},{"x":1.616,"y":0.58,"g":"Non_AD"},{"x":1.803,"y":0.59,"g":"MCI+"},{"x":1.731,"y":0.54,"g":"MCI+"},{"x":1.78,"y":0.527,"g":"MCI+"},{"x":1.912,"y":0.75,"g":"Non_AD"},{"x":1.97,"y":0.75,"g":"Non_AD"},{"x":1.415,"y":0.527,"g":"Non_AD"},{"x":1.913,"y":0.517,"g":"CU+"},{"x":1.815,"y":0.5,"g":"MCI+"},{"x":1.721,"y":0.46,"g":"MCI+"},{"x":1.759,"y":0.44,"g":"MCI+"},{"x":1.36,"y":0.41,"g":"MCI+"},{"x":1.57,"y":0.39,"g":"Non_AD"},{"x":1.313,"y":0.346,"g":"MCI+"},{"x":1.458,"y":0.344,"g":"MCI+"},{"x":1.532,"y":0.35,"g":"MCI+"},{"x":1.578,"y":0.35,"g":"CU+"},{"x":1.564,"y":0.33,"g":"CU+"},{"x":1.665,"y":0.336,"g":"MCI+"},{"x":1.621,"y":0.318,"g":"MCI+"},{"x":1.26,"y":0.32,"g":"MCI+"},{"x":1.192,"y":0.305,"g":"CU-"},{"x":1.213,"y":0.295,"g":"Non_AD"},{"x":1.423,"y":0.295,"g":"CU+"},{"x":1.606,"y":0.288,"g":"CU+"},{"x":1.354,"y":0.3,"g":"Non_AD"},{"x":1.837,"y":0.305,"g":"MCI+"},{"x":1.371,"y":0.26,"g":"CU+"},{"x":1.187,"y":0.234,"g":"MCI+"},{"x":1.481,"y":0.232,"g":"MCI+"},{"x":1.578,"y":0.247,"g":"MCI+"},{"x":1.614,"y":0.229,"g":"MCI+"},{"x":1.548,"y":0.22,"g":"Non_AD"},{"x":1.949,"y":0.237,"g":"CU+"},{"x":1.287,"y":0.214,"g":"CU+"},{"x":1.205,"y":0.2,"g":"CU+"},{"x":1.222,"y":0.195,"g":"CU+"},{"x":1.256,"y":0.186,"g":"CU+"},{"x":1.375,"y":0.19,"g":"CU-"},{"x":1.414,"y":0.2,"g":"Non_AD"},{"x":1.659,"y":0.2,"g":"Non_AD"},{"x":1.573,"y":0.178,"g":"MCI+"},{"x":1.599,"y":0.178,"g":"MCI+"},{"x":2.065,"y":0.19,"g":"MCI+"},{"x":1.488,"y":0.158,"g":"MCI+"},{"x":1.229,"y":0.16,"g":"CU+"},{"x":1.33,"y":0.12,"g":"MCI+"},{"x":1.666,"y":0.13,"g":"CU+"},{"x":1.428,"y":0.115,"g":"MCI+"},{"x":1.368,"y":0.1,"g":"CU-"},{"x":1.221,"y":0.087,"g":"Non_AD"},{"x":1.417,"y":0.066,"g":"MCI+"},{"x":1.216,"y":0.053,"g":"CU-"},{"x":1.924,"y":1.71,"g":"AD"}],
"d_l":[{"x":0.8,"y":0.145,"lo":0.08,"hi":0.21},{"x":1.0,"y":0.26,"lo":0.21,"hi":0.31},{"x":1.2,"y":0.37,"lo":0.32,"hi":0.43},{"x":1.5,"y":0.545,"lo":0.47,"hi":0.62},{"x":1.8,"y":0.715,"lo":0.61,"hi":0.82},{"x":2.07,"y":0.866,"lo":0.74,"hi":0.98}],"d_r":[{"x":0.84,"y":2.717,"t":"R"},{"x":0.799,"y":2.473,"t":"p"}],"d_s":[{"x":0.898,"y":2.717,"t":"= 0.49"},{"x":0.848,"y":2.473,"t":"< 2.2e-16"}],
"e":[{"x":0.84,"y":0.4,"g":"CU-"},{"x":0.85,"y":0.25,"g":"CU-"},{"x":0.86,"y":0.3,"g":"CU-"},{"x":0.875,"y":0.2,"g":"CU-"},{"x":0.885,"y":0.4,"g":"CU-"},{"x":0.89,"y":0.1,"g":"CU-"},{"x":0.905,"y":0.3,"g":"CU-"},{"x":0.91,"y":0.5,"g":"CU-"},{"x":0.925,"y":0.4,"g":"CU-"},{"x":0.93,"y":0.15,"g":"CU-"},{"x":0.94,"y":0.45,"g":"CU-"},{"x":0.955,"y":0.45,"g":"CU-"},{"x":0.965,"y":0.1,"g":"CU-"},{"x":0.98,"y":0.5,"g":"CU-"},{"x":0.985,"y":0.15,"g":"CU-"},{"x":1,"y":0.5,"g":"CU-"},{"x":0.87,"y":0.6,"g":"CU-"},{"x":0.88,"y":0.8,"g":"CU-"},{"x":0.9,"y":0.9,"g":"CU-"},{"x":0.91,"y":1.2,"g":"CU-"},{"x":0.935,"y":1.3,"g":"CU-"},{"x":0.95,"y":0.95,"g":"CU-"},{"x":0.97,"y":1,"g":"CU-"},{"x":0.99,"y":1.15,"g":"CU-"},{"x":0.975,"y":0.7,"g":"CU-"},{"x":0.905,"y":0.65,"g":"CU-"},{"x":0.86,"y":0.85,"g":"CU-"},{"x":0.94,"y":0.85,"g":"CU-"},{"x":1.02,"y":1.05,"g":"CU-"},{"x":0.92,"y":1.5,"g":"CU-"},{"x":0.87,"y":0.95,"g":"Other"},{"x":0.875,"y":1.2,"g":"Other"},{"x":0.885,"y":1,"g":"Other"},{"x":0.98,"y":0.15,"g":"Other"},{"x":0.965,"y":0.25,"g":"Other"},{"x":0.841,"y":0.64,"g":"CU-"},{"x":0.863,"y":0.5,"g":"CU-"},{"x":0.869,"y":0.07,"g":"CU-"},{"x":0.897,"y":0.21,"g":"CU-"},{"x":0.919,"y":0.07,"g":"CU-"},{"x":0.947,"y":0.21,"g":"CU-"},{"x":0.974,"y":0.28,"g":"CU-"},{"x":0.997,"y":0.21,"g":"Other"},{"x":0.83,"y":0.5,"g":"CU+"},{"x":0.891,"y":0.71,"g":"CU-"},{"x":0.924,"y":0.71,"g":"CU-"},{"x":0.958,"y":0.71,"g":"CU-"},{"x":1.013,"y":0.78,"g":"CU-"},{"x":0.986,"y":0.85,"g":"CU-"},{"x":0.958,"y":1.21,"g":"CU-"},{"x":0.924,"y":1.06,"g":"CU-"},{"x":0.897,"y":1.42,"g":"CU-"},{"x":0.891,"y":0.99,"g":"CU-"},{"x":1.002,"y":1.21,"g":"CU-"},{"x":0.852,"y":0.78,"g":"CU-"},{"x":0.947,"y":1.7,"g":"Non_AD"},{"x":1.074,"y":1.28,"g":"CU-"},{"x":1.052,"y":0.85,"g":"CU-"},{"x":0.874,"y":1.11,"g":"Other"},{"x":0.869,"y":1.07,"g":"Other"},{"x":0.88,"y":1.17,"g":"Other"},{"x":0.919,"y":1.56,"g":"Other"},{"x":0.921,"y":1.42,"g":"CU+"},{"x":0.799,"y":0.21,"g":"Non_AD"},{"x":0.822,"y":0.54,"g":"Young"},{"x":0.952,"y":0,"g":"Non_AD"},{"x":1.004,"y":0.45,"g":"MCI+"},{"x":1.041,"y":0.85,"g":"CU-"},{"x":1.069,"y":0.6,"g":"Other"},{"x":1.086,"y":0.71,"g":"Other"},{"x":1.093,"y":0.85,"g":"Non_AD"},{"x":1.093,"y":0.4,"g":"Non_AD"},{"x":1.094,"y":0.35,"g":"CU+"},{"x":0.922,"y":3.43,"g":"Other"},{"x":0.924,"y":2.95,"g":"CU-"},{"x":1.083,"y":2.51,"g":"MCI+"},{"x":0.982,"y":2.48,"g":"Other"},{"x":0.936,"y":2.34,"g":"MCI+"},{"x":0.908,"y":2.24,"g":"Non_AD"},{"x":0.919,"y":2.13,"g":"CU-"},{"x":0.956,"y":2.2,"g":"CU+"},{"x":0.881,"y":1.99,"g":"Other"},{"x":1.063,"y":2.03,"g":"Non_AD"},{"x":1.074,"y":1.92,"g":"CU-"},{"x":1.004,"y":1.77,"g":"CU+"},{"x":1.731,"y":12.79,"g":"MCI+"},{"x":1.913,"y":9.29,"g":"MCI+"},{"x":1.637,"y":8.84,"g":"Non_AD"},{"x":1.84,"y":7.73,"g":"CU+"},{"x":1.972,"y":7.12,"g":"MCI+"},{"x":1.502,"y":6.49,"g":"MCI+"},{"x":1.572,"y":6.49,"g":"Non_AD"},{"x":1.617,"y":6.16,"g":"MCI+"},{"x":1.424,"y":6.13,"g":"CU+"},{"x":1.566,"y":5.92,"g":"MCI+"},{"x":1.593,"y":5.83,"g":"CU+"},{"x":1.782,"y":5.93,"g":"MCI+"},{"x":1.702,"y":5.43,"g":"AD"},{"x":1.723,"y":5.62,"g":"MCI+"},{"x":1.513,"y":5.32,"g":"CU+"},{"x":1.267,"y":5.22,"g":"MCI+"},{"x":1.566,"y":5.22,"g":"CU+"},{"x":1.763,"y":5.25,"g":"MCI+"},{"x":1.478,"y":4.75,"g":"MCI+"},{"x":1.879,"y":4.81,"g":"Non_AD"},{"x":1.516,"y":4.51,"g":"MCI+"},{"x":1.966,"y":4.53,"g":"MCI+"},{"x":1.914,"y":4.23,"g":"CU+"},{"x":1.662,"y":4.37,"g":"Non_AD"},{"x":1.607,"y":4.04,"g":"CU+"},{"x":1.416,"y":3.97,"g":"MCI+"},{"x":1.818,"y":4.07,"g":"MCI+"},{"x":1.802,"y":3.69,"g":"MCI+"},{"x":1.663,"y":3.52,"g":"MCI+"},{"x":1.69,"y":3.38,"g":"MCI+"},{"x":1.458,"y":3.33,"g":"MCI+"},{"x":1.484,"y":3.29,"g":"Non_AD"},{"x":1.608,"y":3.31,"g":"CU+"},{"x":1.732,"y":3.38,"g":"MCI+"},{"x":1.756,"y":3.42,"g":"MCI+"},{"x":1.982,"y":3.42,"g":"MCI+"},{"x":1.58,"y":2.95,"g":"CU+"},{"x":1.289,"y":2.81,"g":"CU+"},{"x":1.417,"y":2.88,"g":"Non_AD"},{"x":1.727,"y":2.74,"g":"MCI+"},{"x":1.331,"y":2.54,"g":"MCI+"},{"x":1.599,"y":2.48,"g":"MCI+"},{"x":2.067,"y":2.47,"g":"MCI+"},{"x":1.207,"y":2.34,"g":"CU+"},{"x":1.228,"y":2.37,"g":"CU+"},{"x":1.95,"y":2.34,"g":"CU+"},{"x":1.362,"y":2.14,"g":"MCI+"},{"x":1.794,"y":2.31,"g":"MCI+"},{"x":1.262,"y":2.17,"g":"MCI+"},{"x":1.578,"y":2.03,"g":"MCI+"},{"x":1.838,"y":1.99,"g":"MCI+"},{"x":1.668,"y":1.99,"g":"CU+"},{"x":1.668,"y":1.79,"g":"MCI+"},{"x":1.482,"y":1.9,"g":"MCI+"},{"x":1.189,"y":1.89,"g":"MCI+"},{"x":1.408,"y":1.89,"g":"CU+"},{"x":1.371,"y":1.77,"g":"MCI+"},{"x":1.621,"y":1.79,"g":"MCI+"},{"x":1.349,"y":1.75,"g":"CU+"},{"x":1.313,"y":1.53,"g":"MCI+"},{"x":1.43,"y":1.52,"g":"MCI+"},{"x":1.402,"y":1.42,"g":"MCI+"},{"x":1.613,"y":1.48,"g":"MCI+"},{"x":1.13,"y":1.5,"g":"CU+"},{"x":1.208,"y":1.49,"g":"CU+"},{"x":1.552,"y":1.35,"g":"Non_AD"},{"x":1.171,"y":1.39,"g":"CU-"},{"x":1.426,"y":1.28,"g":"CU+"},{"x":1.363,"y":1.31,"g":"CU-"},{"x":1.374,"y":1.32,"g":"CU-"},{"x":1.488,"y":1.21,"g":"CU+"},{"x":1.156,"y":1.25,"g":"MCI+"},{"x":1.189,"y":1.12,"g":"Non_AD"},{"x":1.217,"y":1.05,"g":"CU-"},{"x":1.358,"y":1.05,"g":"Non_AD"},{"x":1.574,"y":1.02,"g":"MCI+"},{"x":1.122,"y":1.01,"g":"Other"},{"x":1.532,"y":0.85,"g":"MCI+"},{"x":1.258,"y":0.88,"g":"CU+"},{"x":1.416,"y":0.81,"g":"MCI+"},{"x":1.419,"y":0.78,"g":"Non_AD"},{"x":1.224,"y":0.88,"g":"Non_AD"},{"x":1.23,"y":0.61,"g":"CU+"},{"x":1.124,"y":0.62,"g":"CU+"},{"x":1.419,"y":0.43,"g":"Non_AD"},{"x":1.489,"y":0.4,"g":"MCI+"},{"x":1.924,"y":10.67,"g":"AD"},{"x":1.401,"y":10.08,"g":"AD"},{"x":1.623,"y":8.47,"g":"AD"}],
"e_l":[{"x":0.8,"y":0.17,"lo":-0.1,"hi":0.45},{"x":1.0,"y":1.05,"lo":0.85,"hi":1.25},{"x":1.2,"y":1.94,"lo":1.72,"hi":2.16},{"x":1.5,"y":3.26,"lo":2.98,"hi":3.54},{"x":1.8,"y":4.59,"lo":4.2,"hi":4.98},{"x":2.07,"y":5.78,"lo":5.3,"hi":6.25}],"e_r":[{"x":0.837,"y":15,"t":"R"},{"x":0.798,"y":13.65,"t":"p"}],"e_s":[{"x":0.898,"y":15,"t":"= 0.65"},{"x":0.849,"y":13.65,"t":"< 2.2e-16"}],
"f":[{"x":0.84,"y":0.15,"g":"CU-"},{"x":0.85,"y":0.05,"g":"CU-"},{"x":0.86,"y":0.2,"g":"CU-"},{"x":0.87,"y":0.1,"g":"CU-"},{"x":0.885,"y":0.1,"g":"CU-"},{"x":0.89,"y":0.3,"g":"CU-"},{"x":0.895,"y":0.05,"g":"CU-"},{"x":0.91,"y":0.15,"g":"CU-"},{"x":0.915,"y":0.05,"g":"CU-"},{"x":0.925,"y":0.12,"g":"CU-"},{"x":0.935,"y":0.35,"g":"CU-"},{"x":0.945,"y":0.05,"g":"CU-"},{"x":0.955,"y":0.2,"g":"CU-"},{"x":0.97,"y":0.1,"g":"CU-"},{"x":0.975,"y":0.4,"g":"CU-"},{"x":0.985,"y":0.05,"g":"CU-"},{"x":1,"y":0.15,"g":"CU-"},{"x":0.87,"y":0.45,"g":"CU-"},{"x":0.88,"y":0.35,"g":"CU-"},{"x":0.895,"y":0.5,"g":"CU-"},{"x":0.92,"y":0.45,"g":"CU-"},{"x":0.945,"y":0.5,"g":"CU-"},{"x":0.96,"y":0.65,"g":"CU-"},{"x":0.9,"y":0.75,"g":"CU-"},{"x":0.925,"y":0.85,"g":"CU-"},{"x":0.875,"y":0.65,"g":"CU-"},{"x":0.88,"y":0.03,"g":"Other"},{"x":0.89,"y":0.03,"g":"Other"},{"x":0.91,"y":0.03,"g":"Other"},{"x":0.93,"y":0.03,"g":"Other"},{"x":0.95,"y":0.03,"g":"Other"},{"x":0.828,"y":0.27,"g":"CU-"},{"x":0.856,"y":0.35,"g":"CU-"},{"x":0.889,"y":0.62,"g":"CU-"},{"x":0.906,"y":0.35,"g":"CU-"},{"x":0.933,"y":0.64,"g":"CU-"},{"x":0.961,"y":0.41,"g":"CU-"},{"x":0.978,"y":0.67,"g":"CU-"},{"x":0.833,"y":0,"g":"Young"},{"x":0.867,"y":0,"g":"Other"},{"x":0.9,"y":0,"g":"Other"},{"x":0.928,"y":0,"g":"CU-"},{"x":0.961,"y":0,"g":"CU-"},{"x":0.994,"y":0.06,"g":"CU-"},{"x":0.922,"y":0.27,"g":"CU-"},{"x":0.983,"y":0.27,"g":"CU-"},{"x":1.011,"y":0.35,"g":"CU-"},{"x":0.878,"y":0.18,"g":"Other"},{"x":0.856,"y":0.58,"g":"CU-"},{"x":0.911,"y":0.76,"g":"CU+"},{"x":0.944,"y":0.18,"g":"CU-"},{"x":0.894,"y":0.94,"g":"CU+"},{"x":0.911,"y":1.03,"g":"CU+"},{"x":0.936,"y":0.99,"g":"CU-"},{"x":0.958,"y":0.76,"g":"Non_AD"},{"x":0.916,"y":1.78,"g":"CU-"},{"x":0.944,"y":1.72,"g":"Non_AD"},{"x":0.946,"y":1.31,"g":"CU-"},{"x":1.044,"y":0.67,"g":"CU-"},{"x":1.067,"y":0.64,"g":"Other"},{"x":1.008,"y":0.64,"g":"Other"},{"x":1.083,"y":0.53,"g":"MCI+"},{"x":1.039,"y":0.27,"g":"CU-"},{"x":1.011,"y":0.06,"g":"CU-"},{"x":1.063,"y":0.06,"g":"Other"},{"x":1.091,"y":0,"g":"Non_AD"},{"x":1.122,"y":0.02,"g":"Other"},{"x":1.122,"y":0.2,"g":"CU+"},{"x":0.797,"y":0,"g":"Non_AD"},{"x":1.481,"y":7.92,"g":"Non_AD"},{"x":1.877,"y":5.52,"g":"MCI+"},{"x":1.803,"y":5.04,"g":"MCI+"},{"x":1.732,"y":4.47,"g":"MCI+"},{"x":1.688,"y":3.7,"g":"MCI+"},{"x":1.261,"y":3.6,"g":"MCI+"},{"x":1.062,"y":3.24,"g":"Non_AD"},{"x":1.579,"y":3.05,"g":"CU+"},{"x":1.731,"y":2.7,"g":"MCI+"},{"x":1.416,"y":1.86,"g":"Non_AD"},{"x":1.571,"y":1.81,"g":"Non_AD"},{"x":1.563,"y":1.7,"g":"CU+"},{"x":1.213,"y":1.66,"g":"Non_AD"},{"x":1.514,"y":1.72,"g":"MCI+"},{"x":1.637,"y":1.57,"g":"Non_AD"},{"x":1.09,"y":1.36,"g":"Non_AD"},{"x":1.426,"y":1.25,"g":"CU+"},{"x":1.839,"y":1.22,"g":"CU+"},{"x":1.78,"y":1.19,"g":"MCI+"},{"x":1.72,"y":1.23,"g":"Non_AD"},{"x":1.511,"y":1.12,"g":"CU+"},{"x":1.591,"y":1.09,"g":"CU+"},{"x":1.617,"y":1.04,"g":"MCI+"},{"x":1.414,"y":1.05,"g":"MCI+"},{"x":1.192,"y":1.05,"g":"CU-"},{"x":1.474,"y":0.8,"g":"MCI+"},{"x":1.502,"y":0.82,"g":"MCI+"},{"x":1.564,"y":0.85,"g":"MCI+"},{"x":1.459,"y":0.67,"g":"MCI+"},{"x":1.267,"y":0.74,"g":"Non_AD"},{"x":1.313,"y":0.64,"g":"MCI+"},{"x":1.376,"y":0.74,"g":"CU-"},{"x":1.7,"y":0.75,"g":"AD"},{"x":1.724,"y":0.77,"g":"MCI+"},{"x":1.911,"y":0.8,"g":"CU+"},{"x":1.911,"y":0.73,"g":"MCI+"},{"x":1.97,"y":0.67,"g":"MCI+"},{"x":1.794,"y":0.67,"g":"MCI+"},{"x":1.659,"y":0.58,"g":"Non_AD"},{"x":1.213,"y":0.58,"g":"CU+"},{"x":1.328,"y":0.49,"g":"MCI+"},{"x":1.347,"y":0.49,"g":"CU+"},{"x":1.753,"y":0.49,"g":"MCI+"},{"x":1.967,"y":0.53,"g":"MCI+"},{"x":1.984,"y":0.53,"g":"MCI+"},{"x":1.428,"y":0.44,"g":"CU+"},{"x":1.594,"y":0.47,"g":"MCI+"},{"x":1.606,"y":0.41,"g":"CU+"},{"x":1.617,"y":0.39,"g":"CU+"},{"x":1.667,"y":0.41,"g":"CU+"},{"x":1.663,"y":0.32,"g":"MCI+"},{"x":1.816,"y":0.37,"g":"MCI+"},{"x":1.761,"y":0.35,"g":"MCI+"},{"x":1.37,"y":0.32,"g":"CU-"},{"x":1.406,"y":0.33,"g":"CU+"},{"x":1.287,"y":0.27,"g":"CU+"},{"x":1.258,"y":0.32,"g":"CU+"},{"x":1.233,"y":0.41,"g":"CU+"},{"x":1.95,"y":0.26,"g":"CU+"},{"x":1.839,"y":0.2,"g":"MCI+"},{"x":1.576,"y":0.23,"g":"MCI+"},{"x":1.62,"y":0.15,"g":"MCI+"},{"x":1.667,"y":0.2,"g":"MCI+"},{"x":1.17,"y":0.27,"g":"CU-"},{"x":1.187,"y":0.15,"g":"Non_AD"},{"x":1.158,"y":0.15,"g":"Non_AD"},{"x":1.219,"y":0.08,"g":"CU-"},{"x":2.064,"y":0.18,"g":"MCI+"},{"x":1.55,"y":0.09,"g":"Non_AD"},{"x":1.418,"y":0.15,"g":"Non_AD"},{"x":1.433,"y":0.12,"g":"MCI+"},{"x":1.411,"y":0.18,"g":"MCI+"},{"x":1.487,"y":0.09,"g":"MCI+"},{"x":1.487,"y":-0.02,"g":"CU+"},{"x":1.356,"y":0.02,"g":"MCI+"},{"x":1.367,"y":0.02,"g":"MCI+"},{"x":1.417,"y":-0.02,"g":"Non_AD"},{"x":1.924,"y":13.13,"g":"AD"},{"x":1.401,"y":2.67,"g":"AD"},{"x":1.622,"y":1.35,"g":"AD"}],
"f_l":[{"x":0.8,"y":-0.05,"lo":-0.25,"hi":0.15},{"x":1.0,"y":0.27,"lo":0.12,"hi":0.42},{"x":1.2,"y":0.59,"lo":0.42,"hi":0.76},{"x":1.5,"y":1.07,"lo":0.83,"hi":1.31},{"x":1.8,"y":1.55,"lo":1.2,"hi":1.9},{"x":2.07,"y":1.99,"lo":1.6,"hi":2.36}],"f_r":[{"x":0.839,"y":12.19,"t":"R"},{"x":0.798,"y":11.07,"t":"p"}],"f_s":[{"x":0.898,"y":12.19,"t":"= 0.55"},{"x":0.85,"y":11.07,"t":"< 2.2e-16"}],
"g":[{"x":0.84,"y":0.3,"g":"CU-"},{"x":0.85,"y":0.45,"g":"CU-"},{"x":0.86,"y":0.2,"g":"CU-"},{"x":0.87,"y":0.35,"g":"CU-"},{"x":0.875,"y":0.6,"g":"CU-"},{"x":0.885,"y":0.15,"g":"CU-"},{"x":0.89,"y":0.45,"g":"CU-"},{"x":0.9,"y":0.2,"g":"CU-"},{"x":0.905,"y":0.7,"g":"CU-"},{"x":0.915,"y":0.45,"g":"CU-"},{"x":0.92,"y":0.2,"g":"CU-"},{"x":0.925,"y":0.85,"g":"CU-"},{"x":0.935,"y":0.45,"g":"CU-"},{"x":0.94,"y":0.15,"g":"CU-"},{"x":0.95,"y":0.7,"g":"CU-"},{"x":0.955,"y":0.4,"g":"CU-"},{"x":0.965,"y":0.3,"g":"CU-"},{"x":0.97,"y":0.55,"g":"CU-"},{"x":0.985,"y":0.4,"g":"CU-"},{"x":1,"y":0.5,"g":"CU-"},{"x":0.9,"y":0.9,"g":"CU-"},{"x":0.93,"y":0.7,"g":"CU-"},{"x":0.885,"y":0.75,"g":"CU-"},{"x":0.86,"y":0.65,"g":"CU-"},{"x":0.995,"y":0.15,"g":"CU-"},{"x":1.01,"y":0.2,"g":"CU-"},{"x":0.87,"y":0.7,"g":"Other"},{"x":0.88,"y":0.8,"g":"Other"},{"x":0.885,"y":0.6,"g":"Other"},{"x":0.87,"y":0.1,"g":"Other"},{"x":0.895,"y":0.05,"g":"Other"},{"x":0.831,"y":0.53,"g":"CU-"},{"x":0.852,"y":0.11,"g":"CU-"},{"x":0.88,"y":0.02,"g":"Young"},{"x":0.907,"y":0.11,"g":"CU-"},{"x":0.929,"y":0.07,"g":"CU-"},{"x":0.956,"y":0.21,"g":"CU-"},{"x":0.983,"y":0.21,"g":"CU-"},{"x":1.005,"y":0.35,"g":"CU-"},{"x":1.021,"y":0.58,"g":"CU-"},{"x":0.983,"y":0.63,"g":"CU-"},{"x":0.929,"y":0.58,"g":"CU-"},{"x":0.896,"y":0.58,"g":"CU-"},{"x":0.863,"y":0.75,"g":"Other"},{"x":0.885,"y":0.91,"g":"CU-"},{"x":0.912,"y":1,"g":"CU-"},{"x":0.945,"y":0.96,"g":"CU-"},{"x":0.967,"y":0.81,"g":"CU-"},{"x":0.994,"y":0.72,"g":"CU-"},{"x":0.863,"y":0.49,"g":"CU-"},{"x":0.896,"y":0.3,"g":"CU-"},{"x":0.912,"y":0.81,"g":"CU-"},{"x":0.929,"y":0.35,"g":"CU-"},{"x":0.874,"y":0.21,"g":"Other"},{"x":0.956,"y":0.58,"g":"Non_AD"},{"x":0.934,"y":1.07,"g":"MCI+"},{"x":0.796,"y":0.35,"g":"Non_AD"},{"x":0.822,"y":0.09,"g":"Young"},{"x":1.023,"y":0.09,"g":"MCI+"},{"x":1.007,"y":0.09,"g":"Non_AD"},{"x":0.918,"y":8.68,"g":"CU-"},{"x":0.935,"y":6.1,"g":"CU-"},{"x":0.917,"y":4.47,"g":"CU-"},{"x":0.983,"y":2.61,"g":"CU-"},{"x":0.878,"y":2.34,"g":"Other"},{"x":0.914,"y":2.27,"g":"CU-"},{"x":0.912,"y":2.08,"g":"CU-"},{"x":0.844,"y":2.03,"g":"Young"},{"x":0.866,"y":2.1,"g":"CU-"},{"x":0.951,"y":2.02,"g":"CU-"},{"x":0.981,"y":1.99,"g":"Other"},{"x":0.918,"y":1.86,"g":"Other"},{"x":0.916,"y":1.8,"g":"CU-"},{"x":0.92,"y":1.66,"g":"CU-"},{"x":0.924,"y":1.49,"g":"CU-"},{"x":0.955,"y":1.37,"g":"CU+"},{"x":0.846,"y":1.22,"g":"CU-"},{"x":1.002,"y":0.92,"g":"CU+"},{"x":1.062,"y":1.03,"g":"Non_AD"},{"x":1.043,"y":0.67,"g":"CU-"},{"x":1.087,"y":0.66,"g":"MCI+"},{"x":1.081,"y":0.69,"g":"Other"},{"x":1.092,"y":0.41,"g":"Non_AD"},{"x":1.065,"y":0.41,"g":"CU-"},{"x":1.065,"y":0.28,"g":"Other"},{"x":1.092,"y":0.17,"g":"CU+"},{"x":1.123,"y":0.23,"g":"Other"},{"x":1.123,"y":0.08,"g":"CU+"},{"x":1.13,"y":0.52,"g":"CU+"},{"x":1.663,"y":7.43,"g":"MCI+"},{"x":1.591,"y":3.78,"g":"CU+"},{"x":1.415,"y":3.46,"g":"MCI+"},{"x":1.348,"y":2.86,"g":"CU+"},{"x":1.572,"y":2.95,"g":"Non_AD"},{"x":1.914,"y":2.25,"g":"MCI+"},{"x":1.368,"y":2.1,"g":"MCI+"},{"x":1.515,"y":1.74,"g":"MCI+"},{"x":1.425,"y":1.67,"g":"CU+"},{"x":1.756,"y":1.34,"g":"MCI+"},{"x":1.458,"y":1.25,"g":"MCI+"},{"x":1.983,"y":1.18,"g":"Non_AD"},{"x":1.312,"y":1.04,"g":"MCI+"},{"x":1.155,"y":1.03,"g":"Non_AD"},{"x":1.564,"y":1.06,"g":"CU+"},{"x":1.637,"y":1.03,"g":"Non_AD"},{"x":1.359,"y":0.97,"g":"CU-"},{"x":1.731,"y":0.98,"g":"Non_AD"},{"x":1.226,"y":0.81,"g":"CU+"},{"x":1.661,"y":0.83,"g":"Non_AD"},{"x":1.733,"y":0.8,"g":"MCI+"},{"x":1.688,"y":0.8,"g":"Non_AD"},{"x":1.762,"y":0.8,"g":"MCI+"},{"x":1.784,"y":0.79,"g":"MCI+"},{"x":1.806,"y":0.72,"g":"MCI+"},{"x":1.878,"y":0.8,"g":"Non_AD"},{"x":1.914,"y":0.79,"g":"CU+"},{"x":1.966,"y":0.86,"g":"Non_AD"},{"x":1.971,"y":0.83,"g":"MCI+"},{"x":1.61,"y":0.75,"g":"CU+"},{"x":1.566,"y":0.77,"g":"MCI+"},{"x":1.621,"y":0.66,"g":"MCI+"},{"x":1.593,"y":0.66,"g":"MCI+"},{"x":1.422,"y":0.75,"g":"CU+"},{"x":1.414,"y":0.66,"g":"Non_AD"},{"x":1.479,"y":0.69,"g":"MCI+"},{"x":1.84,"y":0.66,"g":"CU+"},{"x":1.67,"y":0.53,"g":"CU+"},{"x":1.332,"y":0.58,"g":"MCI+"},{"x":1.354,"y":0.55,"g":"MCI+"},{"x":1.264,"y":0.63,"g":"MCI+"},{"x":1.84,"y":0.55,"g":"MCI+"},{"x":1.794,"y":0.47,"g":"MCI+"},{"x":1.817,"y":0.47,"g":"MCI+"},{"x":1.95,"y":0.47,"g":"CU+"},{"x":1.406,"y":0.41,"g":"CU+"},{"x":1.477,"y":0.44,"g":"MCI+"},{"x":1.501,"y":0.39,"g":"MCI+"},{"x":1.574,"y":0.39,"g":"MCI+"},{"x":1.666,"y":0.37,"g":"MCI+"},{"x":1.624,"y":0.35,"g":"MCI+"},{"x":1.286,"y":0.39,"g":"CU+"},{"x":1.256,"y":0.49,"g":"CU+"},{"x":1.201,"y":0.63,"g":"CU+"},{"x":1.217,"y":0.41,"g":"CU-"},{"x":1.187,"y":0.37,"g":"Non_AD"},{"x":1.171,"y":0.27,"g":"CU-"},{"x":1.371,"y":0.37,"g":"CU-"},{"x":1.432,"y":0.28,"g":"MCI+"},{"x":1.403,"y":0.11,"g":"MCI+"},{"x":1.418,"y":0.04,"g":"Non_AD"},{"x":1.421,"y":0.13,"g":"MCI+"},{"x":1.487,"y":0.09,"g":"CU+"},{"x":1.488,"y":0.3,"g":"MCI+"},{"x":1.51,"y":0.32,"g":"CU+"},{"x":1.531,"y":0.19,"g":"MCI+"},{"x":1.55,"y":0.33,"g":"Non_AD"},{"x":1.577,"y":0.11,"g":"MCI+"},{"x":1.607,"y":0.3,"g":"CU+"},{"x":1.728,"y":0.26,"g":"MCI+"},{"x":2.065,"y":0.23,"g":"MCI+"},{"x":1.402,"y":2.1,"g":"AD"},{"x":1.924,"y":1.57,"g":"AD"},{"x":1.621,"y":1.35,"g":"AD"},{"x":1.704,"y":0.57,"g":"AD"}],
"g_l":[{"x":0.8,"y":0.47,"lo":0.33,"hi":0.62},{"x":1.0,"y":0.58,"lo":0.46,"hi":0.69},{"x":1.2,"y":0.68,"lo":0.56,"hi":0.8},{"x":1.5,"y":0.84,"lo":0.68,"hi":1.0},{"x":1.8,"y":1.0,"lo":0.78,"hi":1.22},{"x":2.07,"y":1.14,"lo":0.84,"hi":1.44}],"g_r":[{"x":0.839,"y":9.92,"t":"R"},{"x":0.798,"y":9.03,"t":"p"}],"g_s":[{"x":0.896,"y":9.92,"t":"= 0.32"},{"x":0.847,"y":9.03,"t":"= 1.9e-09"}],"g_x":[{"x":0.925,"y":-0.03,"t":"3.0"}]},
"resolve":{"legend":{"fill":"independent"}},"spacing":484,"bounds":"flush",
"vconcat":[
{"hconcat":[
{"width":418,"height":420,"title":{"text":"A","dx":-48},
"encoding":{"x":{"field":"x","type":"quantitative","scale":{"domain":[0.733,2.127],"nice":false,"zero":false},"axis":{"values":[0.8,1.2,1.6,2.0],"format":".1f","title":"Aβ PET (Global SUVR)","titleX":212,"titleY":53}},"y":{"field":"y","type":"quantitative","scale":{"domain":[-2.7,56.4],"nice":false,"zero":false},"axis":{"values":[0,20,40],"title":"pTau-181 [fmol/mL]","titleX":-55,"titleY":211}}},
"layer":[{"data":{"name":"a"},"mark":"circle","encoding":{"fill":{"field":"g","type":"nominal","legend":null,"scale":{"domain":["Young","CU-","CU+","MCI+","AD","Non_AD","Other"],"range":["#93c8e3","#4292cc","#598496","#de604c","#ba1d46","#f6a584","#202020"]}}}},{"data":{"name":"a_l"},"mark":"area","encoding":{"y":{"field":"lo","type":"quantitative"},"y2":{"field":"hi"}}},{"data":{"name":"a_l"},"mark":"line"},{"data":{"name":"a_r"},"mark":{"type":"text","fontStyle":"italic"},"encoding":{"text":{"field":"t"}}},{"data":{"name":"a_s"},"mark":"text","encoding":{"text":{"field":"t"}}}]},
{"hconcat":[
{"width":405,"height":420,"title":{"text":"B","dx":-71},
"encoding":{"x":{"field":"x","type":"quantitative","scale":{"domain":[0.735,2.123],"nice":false,"zero":false},"axis":{"values":[0.8,1.2,1.6,2.0],"format":".1f","title":"Aβ PET (Global SUVR)","titleX":213,"titleY":54}},"y":{"field":"y","type":"quantitative","scale":{"domain":[-0.5,10.17],"nice":false,"zero":false},"axis":{"values":[0,2.5,5,7.5,10],"labelExpr":"datum.value==10?'10':format(datum.value,'.1f')","title":"pTau-199 [fmol/mL]","titleX":-62,"titleY":211}}},
"layer":[{"data":{"name":"b"},"mark":"circle","encoding":{"fill":{"field":"g","type":"nominal","legend":null}}},{"data":{"name":"b_l"},"mark":"area","encoding":{"y":{"field":"lo","type":"quantitative"},"y2":{"field":"hi"}}},{"data":{"name":"b_l"},"mark":"line"},{"data":{"name":"b_r"},"mark":{"type":"text","fontStyle":"italic"},"encoding":{"text":{"field":"t"}}},{"data":{"name":"b_s"},"mark":"text","encoding":{"text":{"field":"t"}}}]},
{"width":426,"height":420,"title":{"text":"C","dx":-51},
"encoding":{"x":{"field":"x","type":"quantitative","scale":{"domain":[0.735,2.13],"nice":false,"zero":false},"axis":{"values":[0.8,1.2,1.6,2.0],"format":".1f","title":"Aβ PET (Global SUVR)","titleX":226,"titleY":55}},"y":{"field":"y","type":"quantitative","scale":{"domain":[-0.086,2.935],"nice":false,"zero":false},"axis":{"values":[0,1,2],"title":"pTau-202 [fmol/mL]","titleX":-44,"titleY":211}}},
"layer":[{"data":{"name":"c"},"mark":"circle","encoding":{"fill":{"field":"g","type":"nominal","legend":null}}},{"data":{"name":"c_l"},"mark":"area","encoding":{"y":{"field":"lo","type":"quantitative"},"y2":{"field":"hi"}}},{"data":{"name":"c_l"},"mark":"line"},{"data":{"name":"c_r"},"mark":{"type":"text","fontStyle":"italic"},"encoding":{"text":{"field":"t"}}},{"data":{"name":"c_s"},"mark":"text","encoding":{"text":{"field":"t"}}}]},
{"width":426,"height":420,"title":{"text":"D","dx":-66},
"encoding":{"x":{"field":"x","type":"quantitative","scale":{"domain":[0.735,2.127],"nice":false,"zero":false},"axis":{"values":[0.8,1.2,1.6,2.0],"format":".1f","title":"Aβ PET (Global SUVR)","titleX":229,"titleY":54}},"y":{"field":"y","type":"quantitative","scale":{"domain":[-0.147,3.06],"nice":false,"zero":false},"axis":{"values":[0,1,2,3],"title":"pTau-205 [fmol/mL]","titleX":-48,"titleY":210}}},
"layer":[{"data":{"name":"d"},"mark":"circle","encoding":{"fill":{"field":"g","type":"nominal","legend":null}}},{"data":{"name":"d_l"},"mark":"area","encoding":{"y":{"field":"lo","type":"quantitative"},"y2":{"field":"hi"}}},{"data":{"name":"d_l"},"mark":"line"},{"data":{"name":"d_r"},"mark":{"type":"text","fontStyle":"italic"},"encoding":{"text":{"field":"t"}}},{"data":{"name":"d_s"},"mark":"text","encoding":{"text":{"field":"t"}}}]}
],"spacing":59,"bounds":"flush","resolve":{"legend":{"fill":"independent"}}}
],"spacing":81,"bounds":"flush","resolve":{"legend":{"fill":"independent"}}},
{"hconcat":[
{"width":418,"height":418,"title":{"text":"E","dx":-60,"offset":-15},
"encoding":{"x":{"field":"x","type":"quantitative","scale":{"domain":[0.733,2.127],"nice":false,"zero":false},"axis":{"values":[0.8,1.2,1.6,2.0],"format":".1f","title":"Aβ PET (Global SUVR)","titleX":211,"titleY":50,"labelPadding":9}},"y":{"field":"y","type":"quantitative","scale":{"domain":[-0.825,16.96],"nice":false,"zero":false},"axis":{"values":[0,5,10,15],"title":"pTau-217 [fmol/mL]","titleX":-54,"titleY":203}}},
"layer":[{"data":{"name":"e"},"mark":"circle","encoding":{"fill":{"field":"g","type":"nominal","legend":null}}},{"data":{"name":"e_l"},"mark":"area","encoding":{"y":{"field":"lo","type":"quantitative"},"y2":{"field":"hi"}}},{"data":{"name":"e_l"},"mark":"line"},{"data":{"name":"e_r"},"mark":{"type":"text","fontStyle":"italic"},"encoding":{"text":{"field":"t"}}},{"data":{"name":"e_s"},"mark":"text","encoding":{"text":{"field":"t"}}}]},
{"hconcat":[
{"width":419,"height":418,"title":{"text":"F","dx":-44,"offset":-15},
"encoding":{"x":{"field":"x","type":"quantitative","scale":{"domain":[0.733,2.127],"nice":false,"zero":false},"axis":{"values":[0.8,1.2,1.6,2.0],"format":".1f","title":"Aβ PET (Global SUVR)","titleX":215,"titleY":53,"labelPadding":9}},"y":{"field":"y","type":"quantitative","scale":{"domain":[-0.856,13.8],"nice":false,"zero":false},"axis":{"values":[0,5,10],"title":"pTau-231 [fmol/mL]","titleX":-48,"titleY":209}}},
"layer":[{"data":{"name":"f"},"mark":"circle","encoding":{"fill":{"field":"g","type":"nominal","legend":null}}},{"data":{"name":"f_l"},"mark":"area","encoding":{"y":{"field":"lo","type":"quantitative"},"y2":{"field":"hi"}}},{"data":{"name":"f_l"},"mark":"line"},{"data":{"name":"f_r"},"mark":{"type":"text","fontStyle":"italic"},"encoding":{"text":{"field":"t"}}},{"data":{"name":"f_s"},"mark":"text","encoding":{"text":{"field":"t"}}}]},
{"width":426,"height":418,"title":{"text":"G","dx":-54,"offset":-15},
"encoding":{"x":{"field":"x","type":"quantitative","scale":{"domain":[0.735,2.13],"nice":false,"zero":false},"axis":{"values":[0.8,1.2,1.6,2.0],"format":".1f","title":"Aβ PET (Global SUVR)","titleX":232,"titleY":54,"labelPadding":9}},"y":{"field":"y","type":"quantitative","scale":{"domain":[-0.525,11.2],"nice":false,"zero":false},"axis":{"values":[0,3,6,9],"title":"pTau-396 [fmol/mL]","titleX":-44,"titleY":207}}},
"layer":[{"data":{"name":"g"},"mark":"circle","encoding":{"fill":{"field":"g","type":"nominal","legend":null}}},{"data":{"name":"g_l"},"mark":"area","encoding":{"y":{"field":"lo","type":"quantitative"},"y2":{"field":"hi"}}},{"data":{"name":"g_l"},"mark":"line"},{"data":{"name":"g_r"},"mark":{"type":"text","fontStyle":"italic"},"encoding":{"text":{"field":"t"}}},{"data":{"name":"g_s"},"mark":"text","encoding":{"text":{"field":"t"}}},{"data":{"name":"g_x"},"mark":{"type":"text","fontSize":23},"encoding":{"text":{"field":"t"}}}]},
{"width":426,"height":418,"data":{"name":"cats"},"transform":[{"filter":"false"}],"mark":"circle","encoding":{"fill":{"field":"g","type":"nominal","legend":{"title":null,"orient":"none","legendX":76,"legendY":186,"columns":2,"symbolType":"circle","symbolSize":118,"symbolStrokeColor":"#333","symbolStrokeWidth":1,"symbolOpacity":0.8,"labelFontSize":18,"labelFont":"Liberation Sans","labelColor":"#111","rowPadding":16.4,"columnPadding":22,"labelOffset":18}}}}
],"spacing":59,"bounds":"flush","resolve":{"legend":{"fill":"independent"}}}
],"spacing":67,"bounds":"flush","resolve":{"legend":{"fill":"independent"}}}
]}
